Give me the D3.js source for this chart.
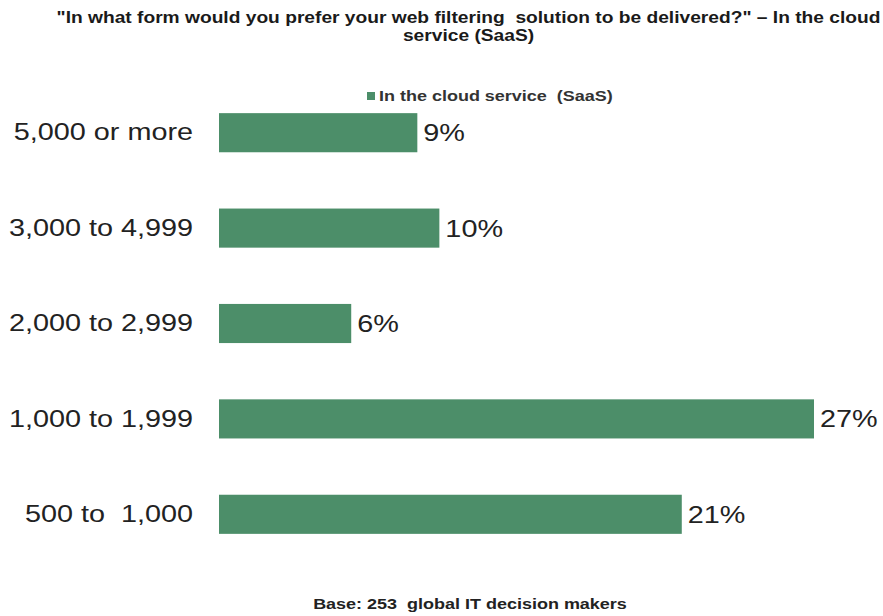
<!DOCTYPE html>
<html>
<head>
<meta charset="utf-8">
<script src="https://cdn.jsdelivr.net/npm/d3@7"></script>
<style>
  html, body { margin: 0; padding: 0; background: #fff; }
  svg { display: block; font-family: "Liberation Sans", Arial, sans-serif; }
</style>
</head>
<body>
<svg id="chart" width="883" height="616"></svg>
<script>
// Company size bands and share preferring a cloud (SaaS) delivered web filter
const categories = ["5,000 or more", "3,000 to 4,999", "2,000 to 2,999", "1,000 to 1,999", "500 to  1,000"];
const values = [9, 10, 6, 27, 21];
const seriesName = "In the cloud service  (SaaS)";
const titleLines = [
  "\"In what form would you prefer your web filtering  solution to be delivered?\" \u2013 In the cloud",
  "service (SaaS)"
];
const footnote = "Base: 253  global IT decision makers";

const svg = d3.select("#chart");
const barColor = "#4c8e69";
const sx = 1.2; // horizontal stretch of the typeface

const x = d3.scaleLinear().domain([0, 27]).range([219, 814]);
const y = d3.scaleBand().domain(categories).range([85, 562])
  .paddingInner(0.59).paddingOuter(0.295);

// Place a text with horizontal stretch about its anchor point
function stretched(sel, px, py) {
  return sel.attr("transform", (d, i) => `translate(${px(d, i)},${py(d, i)}) scale(${sx},1)`);
}

// Title
stretched(svg.append("g").selectAll("text").data(titleLines).join("text"),
    () => 468.5, (d, i) => 23 + i * 18)
  .attr("text-anchor", "middle")
  .attr("font-size", 16).attr("font-weight", "bold").attr("fill", "#1a1a1a")
  .style("white-space", "pre")
  .text(d => d);

// Legend
const legend = svg.append("g");
legend.append("rect").attr("x", 367).attr("y", 92).attr("width", 8).attr("height", 8).attr("fill", barColor);
stretched(legend.append("text").datum(seriesName), () => 379, () => 101)
  .attr("font-size", 15).attr("font-weight", "bold").attr("fill", "#333")
  .style("white-space", "pre").text(d => d);

// Category axis
const yAxis = svg.append("g").attr("transform", "translate(219,0)")
  .call(d3.axisLeft(y).tickSize(0).tickPadding(26));
yAxis.select(".domain").remove();
yAxis.selectAll("text")
  .attr("x", -26 / sx)
  .attr("transform", `scale(${sx},1)`)
  .attr("font-size", 24).attr("fill", "#222")
  .attr("font-family", "'Liberation Sans', Arial, sans-serif")
  .style("white-space", "pre");

// Bars
svg.append("g").selectAll("rect").data(values).join("rect")
  .attr("x", x(0))
  .attr("y", (d, i) => y(categories[i]))
  .attr("width", d => x(d) - x(0))
  .attr("height", y.bandwidth())
  .attr("fill", barColor);

// Value labels
stretched(svg.append("g").selectAll("text").data(values).join("text"),
    d => x(d) + 6, (d, i) => y(categories[i]) + y.bandwidth() / 2)
  .attr("dy", "0.35em")
  .attr("font-size", 24).attr("fill", "#222")
  .text(d => d + "%");

// Footnote
stretched(svg.append("text").datum(footnote), () => 470, () => 609)
  .attr("text-anchor", "middle").attr("font-size", 15).attr("font-weight", "bold")
  .attr("fill", "#222").style("white-space", "pre").text(d => d);
</script>
</body>
</html>
